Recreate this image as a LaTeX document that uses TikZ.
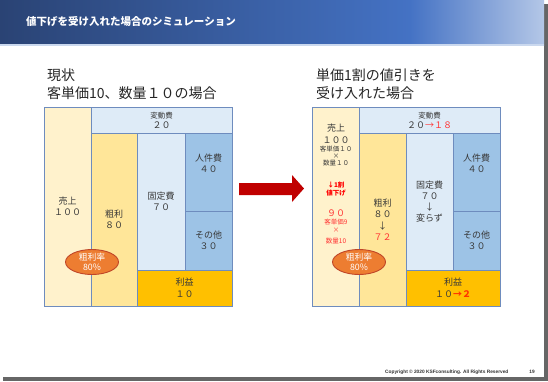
\documentclass[tikz,border=0pt]{standalone}
\usepackage{fontspec}
\setmainfont{Noto Sans CJK JP}
\newfontfamily\footfont{Liberation Sans}
\usetikzlibrary{shapes.geometric}
\definecolor{navy}{HTML}{2A4374}
\definecolor{midblue}{HTML}{4472C4}
\definecolor{lightblue}{HTML}{B4C7E7}
\definecolor{bordc}{RGB}{110,140,190}
\definecolor{salesc}{HTML}{FFF2CC}
\definecolor{grossc}{HTML}{FFE699}
\definecolor{fixc}{HTML}{DEEBF7}
\definecolor{laborc}{HTML}{9DC3E6}
\definecolor{profitc}{HTML}{FFC000}
\definecolor{txt}{HTML}{383838}
\definecolor{redt}{HTML}{FF3333}
\definecolor{orred}{HTML}{FF3300}
\definecolor{arrowred}{HTML}{C00000}
\definecolor{orangec}{HTML}{ED7D31}
\definecolor{orangeb}{RGB}{192,70,40}
\begin{document}
\begin{tikzpicture}[x=1pt,y=-1pt,
  box/.style={draw=bordc, line width=0.8pt, anchor=north west, inner sep=0pt, outer sep=0pt,
    align=center, text=txt, font=\fontsize{9}{11.5}\selectfont},
  varbox/.style={box, font=\fontsize{9}{10}\selectfont},
  rate/.style={ellipse, fill=orangec, draw=orangeb, line width=0.9pt, minimum width=53pt,
    minimum height=25pt, inner sep=0pt, text=white, align=center, font=\fontsize{8.8}{10}\selectfont},
  heading/.style={anchor=west, inner sep=0pt, text=black!85, font=\fontsize{14}{16}\selectfont},
  big/.style={inner sep=0pt, text=txt, font=\fontsize{9}{10}\selectfont},
  small/.style={inner sep=0pt, text=txt, font=\fontsize{6.5}{7.5}\selectfont},
  smallred/.style={small, text=redt},
  smallbold/.style={small, text=red, font=\fontsize{6.5}{7.5}\selectfont\bfseries},
]
\useasboundingbox (0,0) rectangle (548,381);
\fill[white] (0,0) rectangle (548,381);
% slide shadow and slide
\fill[black!60] (3,4) rectangle (547.5,380.5);
\fill[black!35] (547.5,5) rectangle (548,381);
\fill[white] (0,0) rectangle (544,377);
% header
\shade[left color=navy, right color=midblue] (0,0) rectangle (410,45);
\shade[left color=midblue, right color=lightblue] (409.5,0) rectangle (544,45);
\fill[lightblue!70] (0,44) rectangle (544,45.5);
\node[anchor=west, inner sep=0pt, text=white, font=\fontsize{10.5}{12}\selectfont\bfseries] (title) at (26,22) {値下げを受け入れた場合のシミュレーション};

% headings
\node[heading] (hL1) at (47,75) {現状};
\node[heading] (hL2) at (47,93) {客単価10、数量１０の場合};
\node[heading] (hR1) at (316,75) {単価1割の値引きを};
\node[heading] (hR2) at (316,93) {受け入れた場合};

% left diagram
\node[box, fill=salesc, minimum width=47pt, minimum height=199pt] (salesL) at (44,107) {売上\\１００};
\node[varbox, fill=fixc, minimum width=141pt, minimum height=26pt] (varL) at (91,107) {{\fontsize{7.5}{9}\selectfont 変動費}\\２０};
\node[box, fill=grossc, minimum width=46pt, minimum height=173pt] (grossL) at (91,133) {粗利\\８０};
\node[box, fill=fixc, minimum width=48pt, minimum height=137pt] (fixL) at (137,133) {固定費\\７０};
\node[box, fill=laborc, minimum width=47pt, minimum height=78pt] (laborL) at (185,133) {人件費\\４０\\[6pt]};
\node[box, fill=laborc, minimum width=47pt, minimum height=59pt] (otherL) at (185,211) {その他\\３０};
\node[box, fill=profitc, minimum width=95pt, minimum height=36pt] (profitL) at (137,270) {利益\\１０};
\node[rate] (rateL) at (92,262) {粗利率\\80\%};

% arrow
\fill[arrowred] (239,183) -- (292,183) -- (292,175) -- (304,188.5) -- (292,202) -- (292,195) -- (239,195) -- cycle;

% right diagram
\node[box, fill=salesc, minimum width=47pt, minimum height=199pt] (salesR) at (312,107) {};
\node[varbox, fill=fixc, minimum width=141pt, minimum height=26pt] (varR) at (359,107) {{\fontsize{7.5}{9}\selectfont 変動費}\\２０{\color{redt}→１８}};
\node[box, fill=grossc, minimum width=47pt, minimum height=173pt] (grossR) at (359,133) {粗利\\８０\\↓\\{\color{redt}７２}};
\node[box, fill=fixc, minimum width=47pt, minimum height=137pt, font=\fontsize{9}{11}\selectfont] (fixR) at (406,133) {固定費\\７０\\↓\\変らず};
\node[box, fill=laborc, minimum width=47pt, minimum height=78pt] (laborR) at (453,133) {人件費\\４０\\[6pt]};
\node[box, fill=laborc, minimum width=47pt, minimum height=59pt] (otherR) at (453,211) {その他\\３０};
\node[box, fill=profitc, minimum width=94pt, minimum height=36pt] (profitR) at (406,270) {利益\\１０{\color{orred}\bfseries →２}};

% sales text (right)
\node[big] (s1) at (336,128) {売上};
\node[big] (s2) at (336,140) {１００};
\node[small] (s3) at (336,149) {客単価１０};
\node[small] (s4) at (336,156) {×};
\node[small] (s5) at (336,163) {数量１０};
\node[smallbold] (s6) at (336,185) {↓1割};
\node[smallbold] (s7) at (336,193) {値下げ};
\node[big, text=redt] (s8) at (336,213) {９０};
\node[smallred] (s9) at (336,222) {客単価9};
\node[smallred] (s10) at (336,230) {×};
\node[smallred] (s11) at (336,241) {数量10};
\node[rate] (rateR) at (359,262) {粗利率\\80\%};

% footer
\node[anchor=west, inner sep=0pt, text=black!80, font=\footfont\fontsize{4.8}{5}\selectfont\bfseries] (copy) at (385,372) {Copyright © 2020 KSFconsulting. All Rights Reserved};
\node[inner sep=0pt, text=black!80, font=\footfont\fontsize{4.8}{5}\selectfont\bfseries] (page) at (532,372) {19};
\end{tikzpicture}
\end{document}
